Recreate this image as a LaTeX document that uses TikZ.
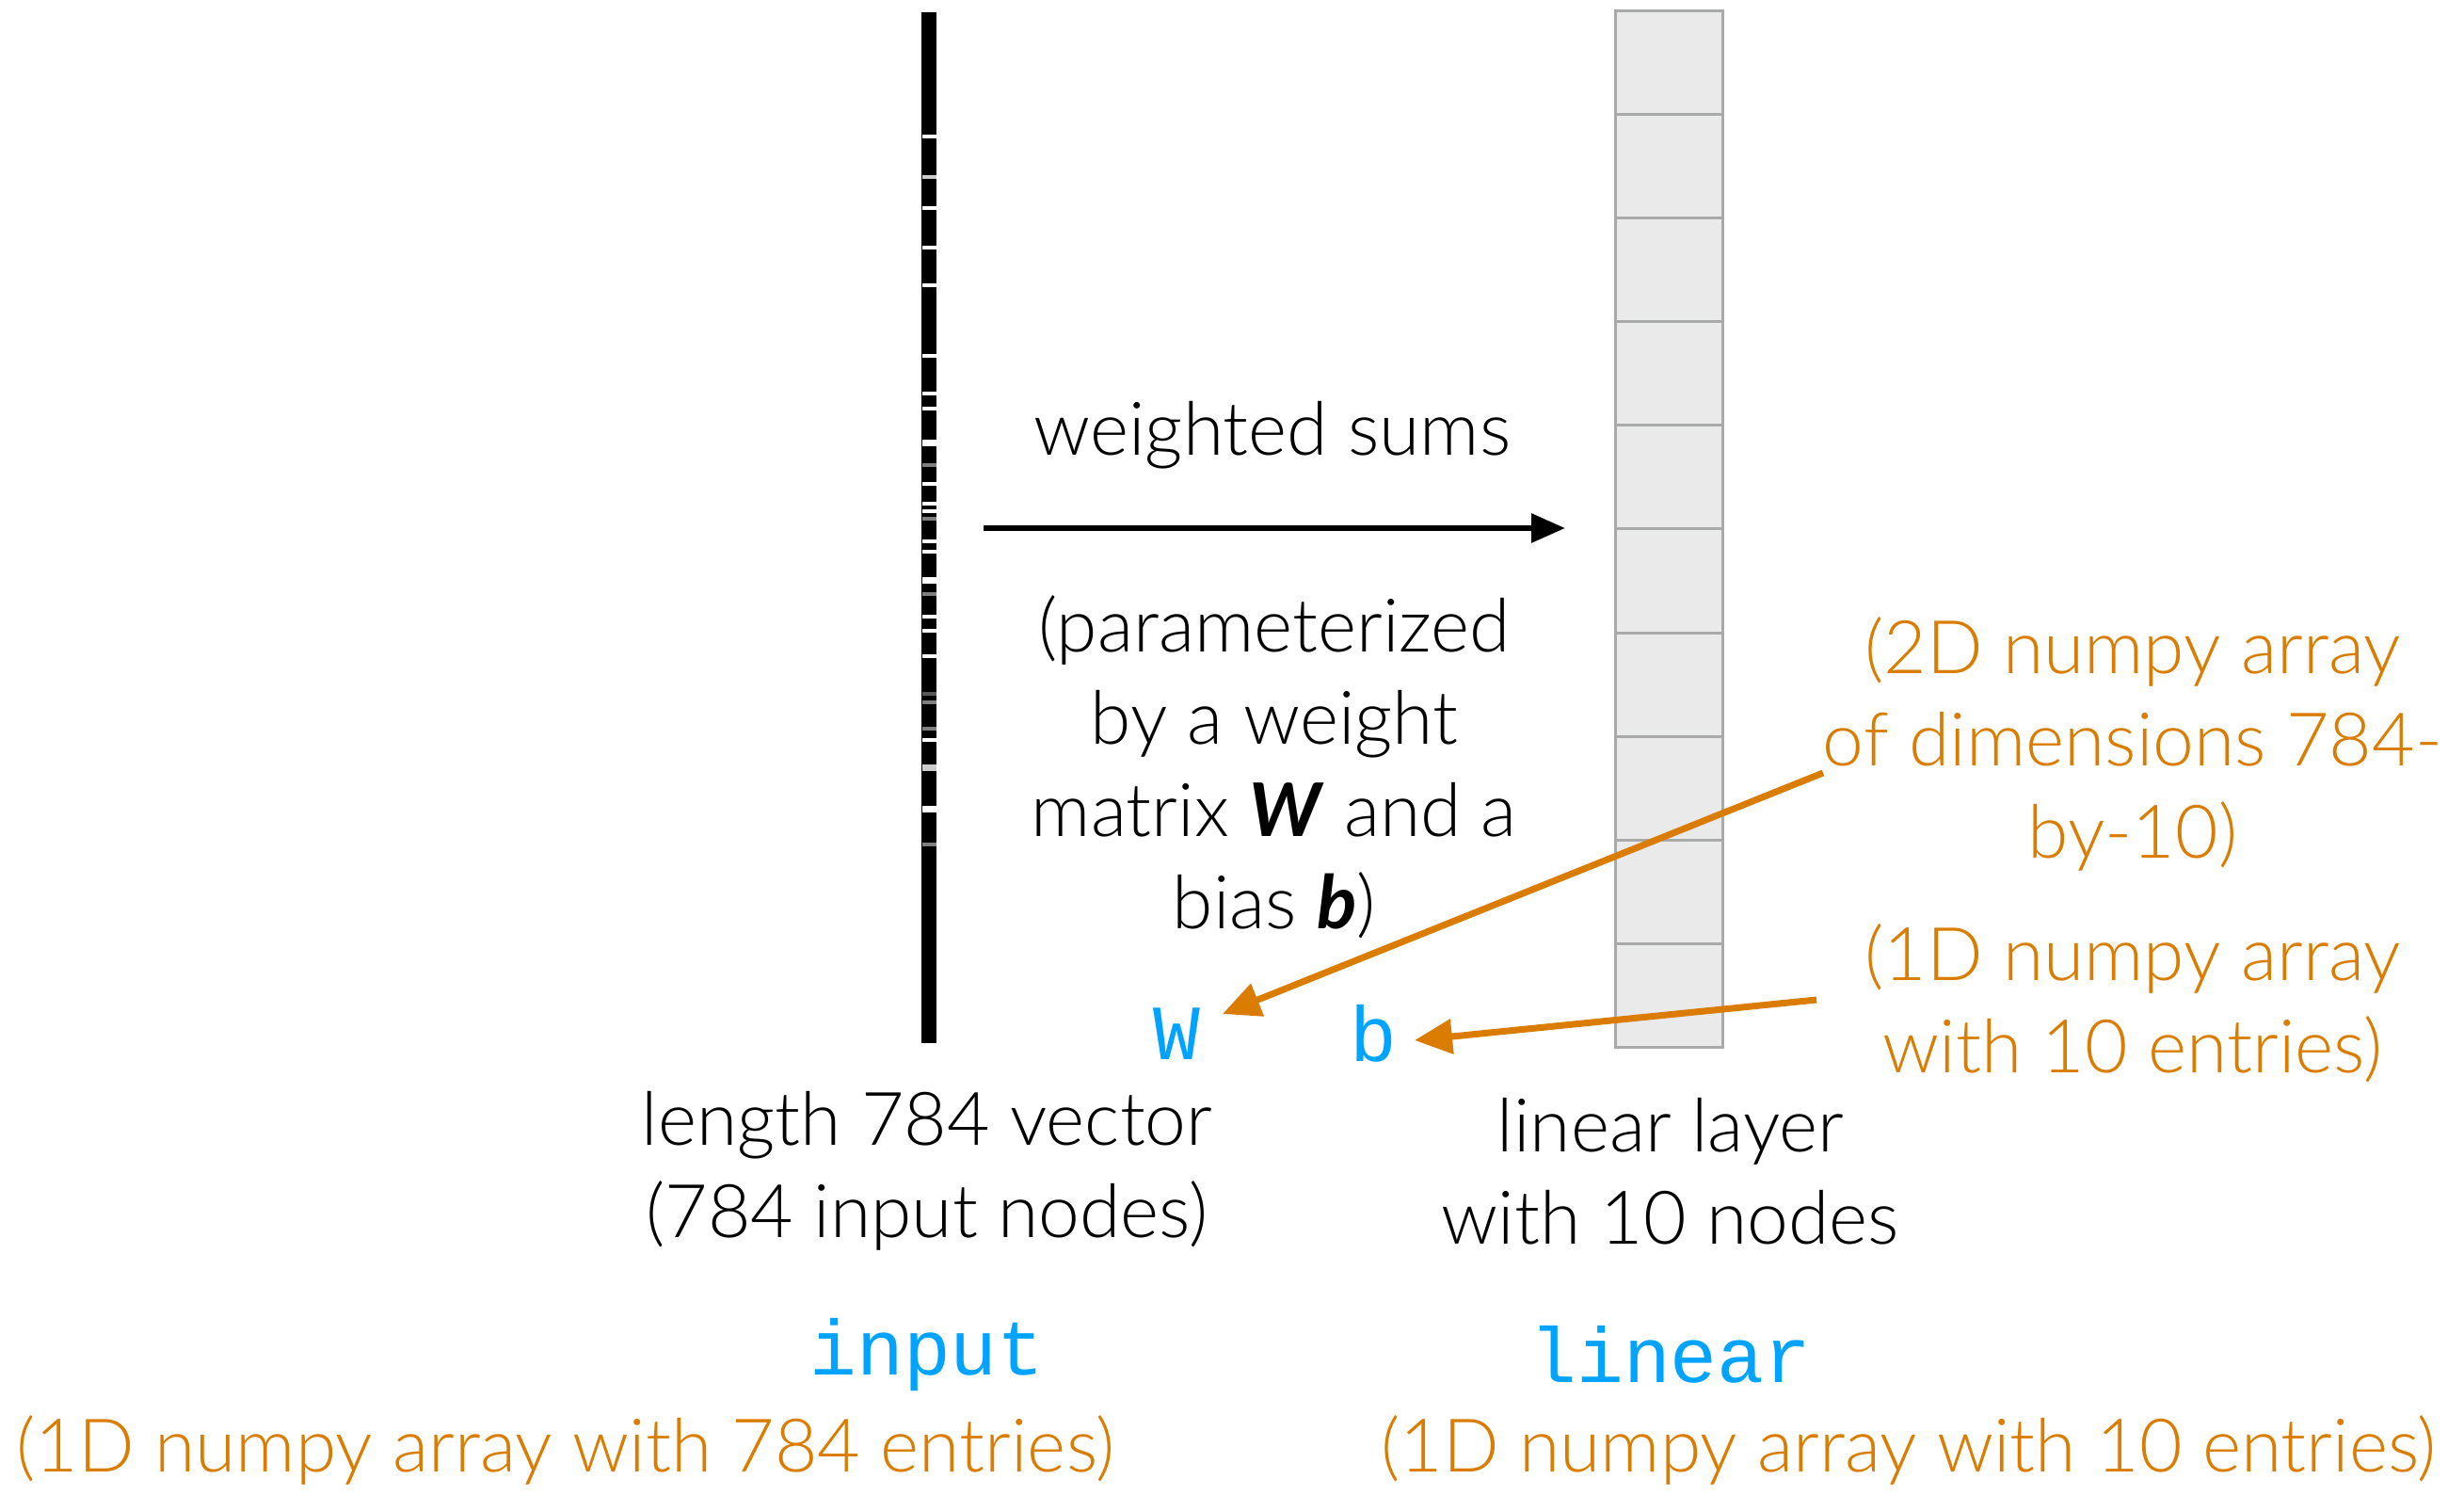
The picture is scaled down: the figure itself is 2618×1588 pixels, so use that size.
\documentclass[tikz,border=0pt]{standalone}
\usepackage{fontspec}
\setmainfont{Lato}[UprightFont={* Light},ItalicFont={* Light Italic},BoldFont={* Bold},BoldItalicFont={* Bold Italic}]
\setmonofont{Liberation Mono}
\usetikzlibrary{arrows.meta}
\definecolor{orng}{RGB}{217,124,0}
\definecolor{blu}{RGB}{0,163,255}
\definecolor{cellfill}{RGB}{234,234,234}
\definecolor{cellline}{RGB}{168,170,170}
\begin{document}
\begin{tikzpicture}[x=0.5pt,y=-0.5pt,
 txt/.style={font=\fontsize{39.3}{49}\selectfont, align=center, inner sep=0pt},
 otxt/.style={txt, text=orng},
 code/.style={font=\ttfamily\fontsize{41.5}{49}\selectfont, text=blu, inner sep=0pt},
 cell/.style={fill=cellfill, draw=cellline, line width=1.5pt},
 oarrow/.style={draw=orng, line width=3.5pt, -{Triangle[length=20pt,width=18pt]}},
 barrow/.style={line width=3pt, -{Triangle[length=18pt,width=15pt]}},
]
\useasboundingbox (0,0) rectangle (2618,1588);
% input vector bar
\fill[black] (979,13) rectangle (995,1108);
\foreach \y/\c in {145/white,188/gray!40,221/white,263/white,303/white,378/white,418/white,434/white,494/gray,514/white,535/white,543/white,551/gray,575/white,586/white,631/gray,655/white,670/white,697/white,737/gray!70!black,746/gray,774/gray,786/white,897/gray}
  \draw[\c, line width=1.6pt] (980,\y) -- (995,\y);
\foreach \y/\c in {471/white,617/white,815/gray!40,859/white}
  \draw[\c, line width=3.5pt] (980,\y) -- (995,\y);
% linear layer
\foreach \i in {0,...,9}
  \draw[cell] (1716,12+110*\i) rectangle ++(114,110);
% texts
\node[txt] (ws) at (1352,462) {weighted sums};
\node[txt] (param) at (1354,815) {(parameterized\\by a weight\\matrix \textbf{\textit{W}} and a\\bias \textbf{\textit{b}})};
\node[otxt] (twoD) at (2266,790) {(2D numpy array\\of dimensions 784-\\by-10)};
\node[otxt] (oneD) at (2266,1066) {(1D numpy array\\with 10 entries)};
\node[code] (W) at (1250,1098) {W};
\node[code] (b) at (1459,1098) {b};
\node[txt] (lenvec) at (985,1244) {length 784 vector\\(784 input nodes)};
\node[txt] (linlay) at (1775,1244) {linear layer\\with 10 nodes};
\node[code] (inp) at (985,1439) {input};
\node[code] (lin) at (1775,1439) {linear};
\node[otxt] (inpArr) at (601,1540) {(1D numpy array with 784 entries)};
\node[otxt] (linArr) at (2028,1540) {(1D numpy array with 10 entries)};
% arrows
\coordinate (wsS) at (1045,561);
\coordinate (wsE) at (1663,561);
\draw[barrow] (wsS) -- (wsE);
\coordinate (aS) at (1937,821);
\coordinate (aT) at (1299,1077);
\draw[oarrow] (aS) -- (aT);
\coordinate (bS) at (1930,1062);
\coordinate (bT) at (1503,1105);
\draw[oarrow] (bS) -- (bT);
\end{tikzpicture}
\end{document}
